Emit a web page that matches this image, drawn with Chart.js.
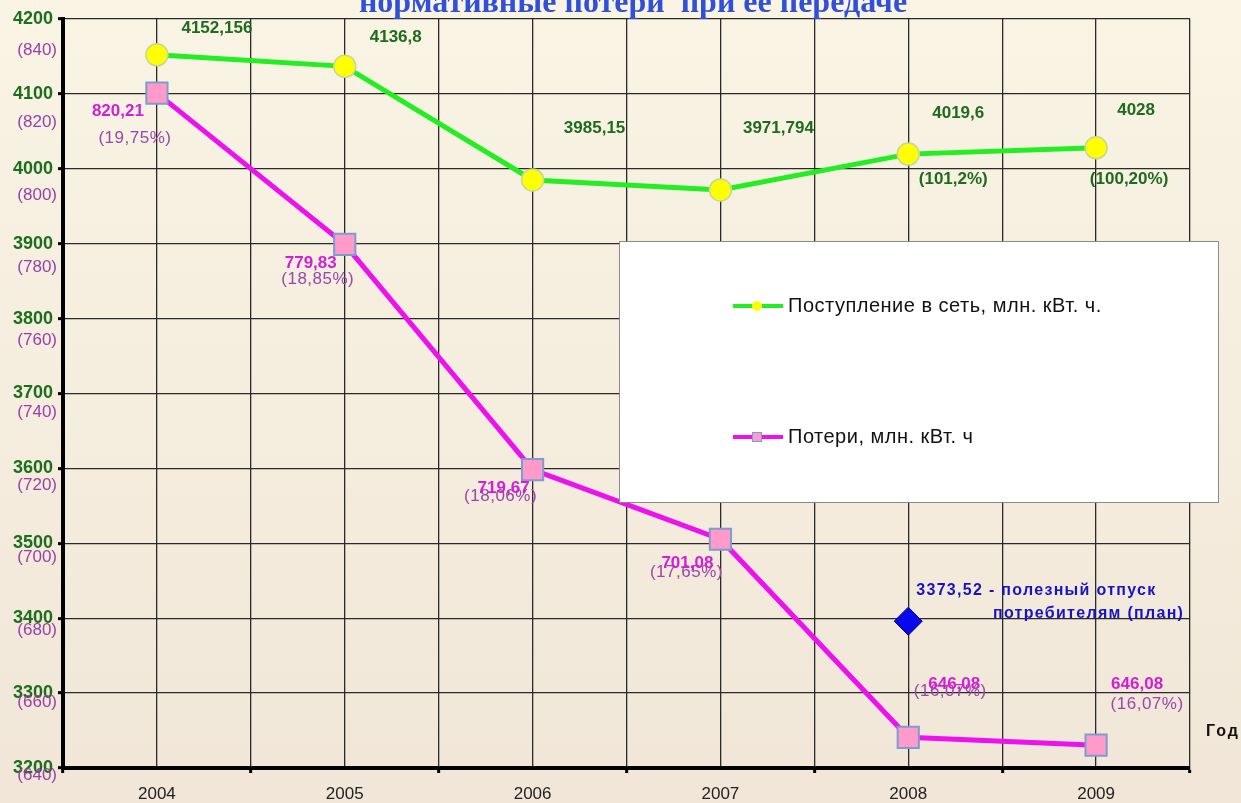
<!DOCTYPE html>
<html lang="ru">
<head>
<meta charset="utf-8">
<title>Поступление в сеть и нормативные потери</title>
<script src="https://cdn.jsdelivr.net/npm/chart.js@4.4.1/dist/chart.umd.min.js"></script>
<style>
  html, body { margin: 0; padding: 0; }
  body {
    width: 1241px;
    height: 803px;
    overflow: hidden;
    background: linear-gradient(#f9f4e4, #f1e6d7);
  }
  .chart-container { position: relative; width: 1241px; height: 803px; }
</style>
</head>
<body>
<div class="chart-container"><canvas id="myChart"></canvas></div>
<script>
// Data
const years = [2004, 2005, 2006, 2007, 2008, 2009];
const supplyValues = [4152.156, 4136.8, 3985.15, 3971.794, 4019.6, 4028];
const supplyLabels = ['4152,156', '4136,8', '3985,15', '3971,794', '4019,6', '4028'];
const supplyPercents = ['', '', '', '', '(101,2%)', '(100,20%)'];
const lossValues = [820.21, 779.83, 719.67, 701.08, 648.2, 646.08];
const lossLabels = ['820,21', '779,83', '719,67', '701,08', '646,08', '646,08'];
const lossPercents = ['(19,75%)', '(18,85%)', '(18,06%)', '(17,65%)', '(16,07%)', '(16,07%)'];
const planYear = 2008;
const planValue = 3396;
const planText = ['3373,52 - полезный отпуск', 'потребителям (план)'];
const supplyTicks = [3200, 3300, 3400, 3500, 3600, 3700, 3800, 3900, 4000, 4100, 4200];
const lossTicks = [640, 660, 680, 700, 720, 740, 760, 780, 800, 820, 840];

const titleText = 'нормативные потери  при ее передаче';
const supplyName = 'Поступление в сеть, млн. кВт. ч.';
const lossName = 'Потери, млн. кВт. ч';

const FONT = "'Liberation Sans', Arial, sans-serif";

function drawText(ctx, text, x, y, font, color, align = 'center', spacing = '0px') {
  ctx.save();
  ctx.font = font;
  ctx.fillStyle = color;
  ctx.textAlign = align;
  ctx.textBaseline = 'middle';
  ctx.letterSpacing = spacing;
  ctx.fillText(text, x, y);
  ctx.restore();
}

// label offsets from each point, in pixels
const supplyOffsets = [[60, -27], [51, -29], [62, -52], [58, -62], [50, -41], [40, -38]];
const supplyPctOffsets = [[0, 0], [0, 0], [0, 0], [0, 0], [45, 25], [33, 31]];
const lossOffsets = [[-39, 18], [-34, 19], [-29, 19], [-33, 24], [46, -53], [41, -61]];
const lossPctOffsets = [[-22, 45], [-27, 35], [-32, 27], [-34, 33], [42, -46], [51, -41]];

const overlayPlugin = {
  id: 'overlay',
  afterDatasetsDraw(chart) {
    // legend box
    const ctx = chart.ctx;
    const [supplySet, lossSet] = chart.data.datasets;
    ctx.save();
    ctx.fillStyle = '#ffffff';
    ctx.fillRect(619, 241, 599, 261);
    ctx.strokeStyle = '#8a8a8a';
    ctx.lineWidth = 1;
    ctx.strokeRect(619.5, 241.5, 599, 261);

    const items = [
      { set: supplySet, y: 306, marker: 'circle' },
      { set: lossSet, y: 437, marker: 'rect' }
    ];
    items.forEach(item => {
      ctx.strokeStyle = item.set.borderColor;
      ctx.lineWidth = 4;
      ctx.beginPath();
      ctx.moveTo(733, item.y);
      ctx.lineTo(783, item.y);
      ctx.stroke();
      ctx.fillStyle = item.set.pointBackgroundColor;
      if (item.marker === 'circle') {
        ctx.beginPath();
        ctx.arc(757, item.y, 5, 0, Math.PI * 2);
        ctx.fill();
      } else {
        ctx.fillRect(752, item.y - 5, 10, 10);
        ctx.strokeStyle = item.set.pointBorderColor;
        ctx.lineWidth = 1;
        ctx.strokeRect(752.5, item.y - 4.5, 9, 9);
      }
      drawText(ctx, item.set.label, 788, item.y, `20px ${FONT}`, '#111', 'left', '0.5px');
    });
    ctx.restore();
  },
  afterDraw(chart) {
    const ctx = chart.ctx;
    const area = chart.chartArea;

    // title (cut off at the top of the picture)
    ctx.save();
    ctx.font = "bold 32px 'Liberation Serif', 'Times New Roman', serif";
    ctx.fillStyle = '#3150d8';
    ctx.textAlign = 'center';
    ctx.textBaseline = 'alphabetic';
    ctx.fillText(titleText, 633, 12);
    ctx.restore();

    // second set of tick labels for the losses
    const lossAxis = chart.scales.yLossLabels;
    lossTicks.forEach(v => {
      drawText(ctx, `(${v})`, 57, lossAxis.getPixelForValue(v), `17px ${FONT}`, '#9a3fa8', 'right');
    });

    // point labels
    const supplyMeta = chart.getDatasetMeta(0);
    const lossMeta = chart.getDatasetMeta(1);
    supplyMeta.data.forEach((pt, i) => {
      drawText(ctx, supplyLabels[i], pt.x + supplyOffsets[i][0], pt.y + supplyOffsets[i][1],
        `bold 17px ${FONT}`, '#1d6b1d');
      if (supplyPercents[i]) {
        drawText(ctx, supplyPercents[i], pt.x + supplyPctOffsets[i][0], pt.y + supplyPctOffsets[i][1],
          `bold 17px ${FONT}`, '#1d6b1d');
      }
    });
    lossMeta.data.forEach((pt, i) => {
      drawText(ctx, lossPercents[i], pt.x + lossPctOffsets[i][0], pt.y + lossPctOffsets[i][1],
        `17px ${FONT}`, '#9a46aa', 'center', '0.5px');
      drawText(ctx, lossLabels[i], pt.x + lossOffsets[i][0], pt.y + lossOffsets[i][1],
        `bold 17px ${FONT}`, '#d21fd2');
    });

    // plan annotation
    const plan = chart.getDatasetMeta(2).data[0];
    drawText(ctx, planText[0], plan.x + 8, plan.y - 31, `bold 16px ${FONT}`, '#1414c4', 'left', '1.3px');
    drawText(ctx, planText[1], plan.x + 276, plan.y - 8, `bold 16px ${FONT}`, '#1414c4', 'right', '1.3px');

    // axis name
    drawText(ctx, 'Год', area.right + 16, area.bottom - 36, `bold 16px ${FONT}`, '#111', 'left', '2px');
  }
};

let myChart;
const initChart = () => {
  const ctx = document.getElementById('myChart').getContext('2d');

  return new Chart(ctx, {
    type: 'line',
    data: {
      datasets: [
        {
          label: supplyName,
          data: years.map((x, i) => ({ x, y: supplyValues[i] })),
          yAxisID: 'y',
          borderColor: '#22ee22',
          borderWidth: 5,
          pointRadius: 11,
          pointHoverRadius: 11,
          pointBackgroundColor: '#ffff00',
          pointBorderColor: '#c6d69a',
          pointBorderWidth: 1.5,
          tension: 0
        },
        {
          label: lossName,
          data: years.map((x, i) => ({ x, y: lossValues[i] })),
          yAxisID: 'y2',
          borderColor: '#ee11ee',
          borderWidth: 5,
          pointStyle: 'rect',
          pointRadius: 15,
          pointHoverRadius: 15,
          pointBackgroundColor: '#ff9acb',
          pointBorderColor: '#7a9fcf',
          pointBorderWidth: 2,
          tension: 0
        },
        {
          label: 'план',
          data: [{ x: planYear, y: planValue }],
          yAxisID: 'y',
          showLine: false,
          pointStyle: 'rectRot',
          pointRadius: 14,
          pointHoverRadius: 14,
          pointBackgroundColor: '#0808ee',
          pointBorderColor: '#000066',
          pointBorderWidth: 1
        }
      ]
    },
    options: {
      responsive: true,
      maintainAspectRatio: false,
      animation: false,
      layout: { padding: { top: 19, right: 51, left: 0, bottom: 0 } },
      plugins: {
        legend: { display: false },
        tooltip: { enabled: false }
      },
      scales: {
        x: {
          type: 'linear',
          min: 2003.5,
          max: 2009.5,
          afterFit: scale => { scale.height = 35; },
          ticks: {
            stepSize: 0.5,
            autoSkip: false,
            maxRotation: 0,
            padding: 11,
            color: '#222',
            font: { family: FONT, size: 17 },
            callback: v => (Number.isInteger(v) ? String(v) : '')
          },
          grid: {
            color: '#2a2a2a',
            lineWidth: 1.3,
            tickLength: 5,
            tickWidth: 3,
            tickColor: c => (Number.isInteger(c.tick && c.tick.value) ? 'rgba(0,0,0,0)' : '#000')
          },
          border: { color: '#000', width: 4 }
        },
        y: {
          min: 3200,
          max: 4200,
          afterFit: scale => { scale.width = 63; },
          afterBuildTicks: scale => { scale.ticks = supplyTicks.map(v => ({ value: v })); },
          ticks: {
            padding: 5,
            color: '#1b6e1b',
            font: { family: FONT, size: 18, weight: 'bold' },
            callback: v => String(v)
          },
          grid: {
            color: '#2a2a2a',
            lineWidth: 1.3,
            tickLength: 5,
            tickWidth: 3,
            tickColor: '#000'
          },
          border: { color: '#000', width: 4 }
        },
        y2: { display: false, min: 640, max: 840 },
        yLossLabels: { display: false, min: 641.93, max: 848.55 }
      }
    },
    plugins: [overlayPlugin]
  });
};

myChart = initChart();
</script>
</body>
</html>
